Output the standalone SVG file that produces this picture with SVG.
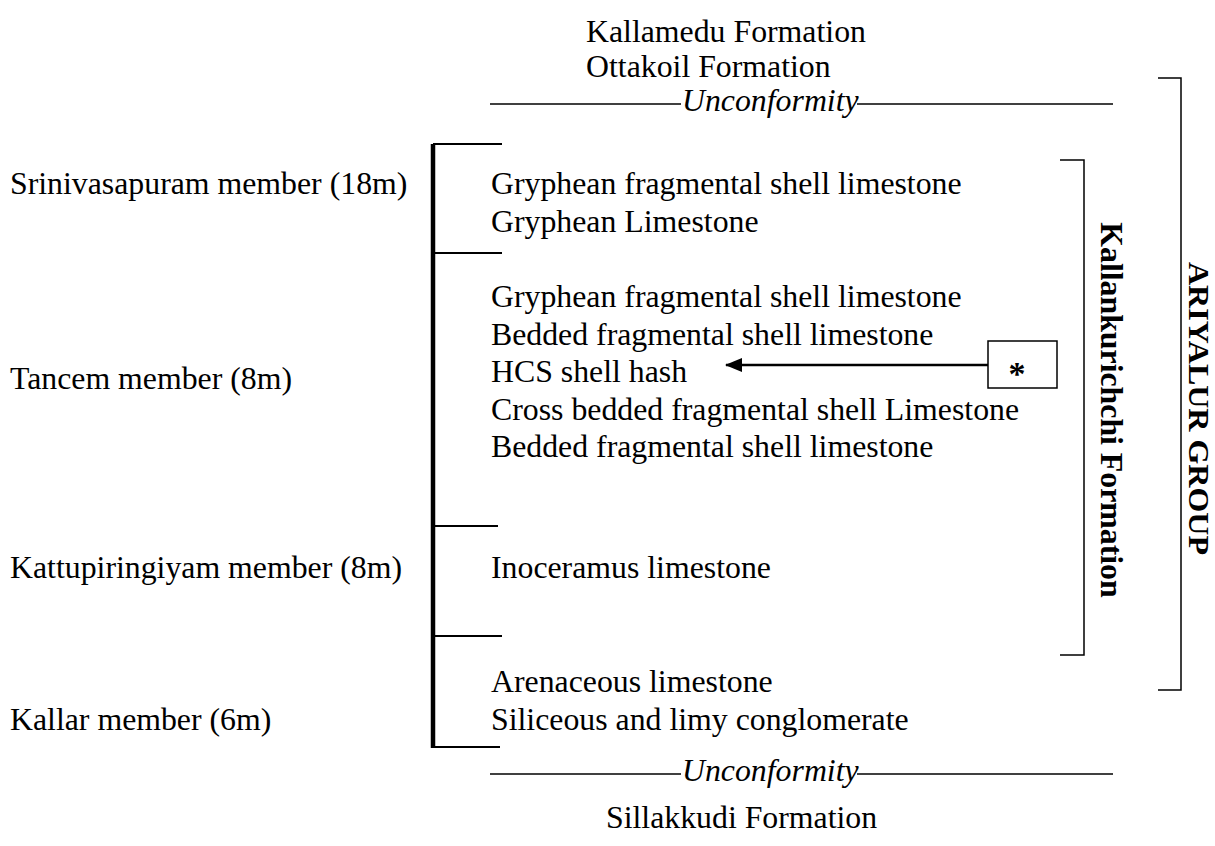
<svg xmlns="http://www.w3.org/2000/svg" width="1215" height="846" viewBox="0 0 1215 846">
<defs>
<style>
text{font-family:"Liberation Serif","Times New Roman",serif;font-size:31.8px;fill:#000}
.it{font-style:italic}
.b{font-weight:bold}
.thin{stroke:#000;stroke-width:1.5;fill:none}
.tick{stroke:#000;stroke-width:2.2;fill:none}
</style>
<marker id="ah" markerWidth="18" markerHeight="16" refX="16" refY="8" orient="auto" markerUnits="userSpaceOnUse">
<path d="M0,1 L17,8 L0,15 Z" fill="#000"/>
</marker>
</defs>
<rect width="1215" height="846" fill="#fff"/>

<g id="top">
<text x="586" y="42">Kallamedu Formation</text>
<text x="586" y="77">Ottakoil Formation</text>
<line class="thin" x1="490" y1="104" x2="681" y2="104"/>
<text class="it" x="682" y="111">Unconformity</text>
<line class="thin" x1="857" y1="104" x2="1113" y2="104"/>
</g>

<g id="members">
<text x="10" y="194">Srinivasapuram member (18m)</text>
<text x="10" y="389">Tancem member (8m)</text>
<text x="10" y="578">Kattupiringiyam member (8m)</text>
<text x="10" y="730">Kallar member (6m)</text>
</g>

<g id="scale">
<line x1="433" y1="144" x2="433" y2="748" stroke="#000" stroke-width="4.5"/>
<line class="tick" x1="433" y1="144" x2="502" y2="144"/>
<line class="tick" x1="433" y1="253" x2="502" y2="253"/>
<line class="tick" x1="433" y1="526" x2="498" y2="526"/>
<line class="tick" x1="433" y1="636" x2="502" y2="636"/>
<line class="tick" x1="433" y1="747" x2="500" y2="747"/>
</g>

<g id="lithology">
<text x="491" y="194">Gryphean fragmental shell limestone</text>
<text x="491" y="232">Gryphean Limestone</text>
<text x="491" y="307">Gryphean fragmental shell limestone</text>
<text x="491" y="344.5">Bedded fragmental shell limestone</text>
<text x="491" y="382">HCS shell hash</text>
<text x="491" y="419.5">Cross bedded fragmental shell Limestone</text>
<text x="491" y="457">Bedded fragmental shell limestone</text>
<text x="491" y="578">Inoceramus limestone</text>
<text x="491" y="692">Arenaceous limestone</text>
<text x="491" y="730">Siliceous and limy conglomerate</text>
</g>

<g id="star-box">
<rect x="988" y="341" width="69" height="47" fill="#fff" stroke="#000" stroke-width="1.5"/>
<text class="b" x="1017" y="385" text-anchor="middle" style="font-size:34px">*</text>
</g>

<g id="connectors">
<line x1="988" y1="365" x2="726" y2="365" stroke="#000" stroke-width="2.7" marker-end="url(#ah)"/>
</g>

<g id="kallankurichchi">
<path class="thin" d="M1060,160 H1084 V655 H1060"/>
<text class="b" transform="translate(1101,410) rotate(90)" text-anchor="middle">Kallankurichchi Formation</text>
</g>

<g id="ariyalur">
<path class="thin" d="M1158,78 H1181 V690 H1158"/>
<text class="b" transform="translate(1189,408.5) rotate(90)" text-anchor="middle" style="font-size:29px" textLength="293" lengthAdjust="spacingAndGlyphs">ARIYALUR GROUP</text>
</g>

<g id="bottom">
<line class="thin" x1="490" y1="774" x2="681" y2="774"/>
<text class="it" x="682" y="781">Unconformity</text>
<line class="thin" x1="857" y1="774" x2="1113" y2="774"/>
<text x="606" y="828">Sillakkudi Formation</text>
</g>
</svg>
